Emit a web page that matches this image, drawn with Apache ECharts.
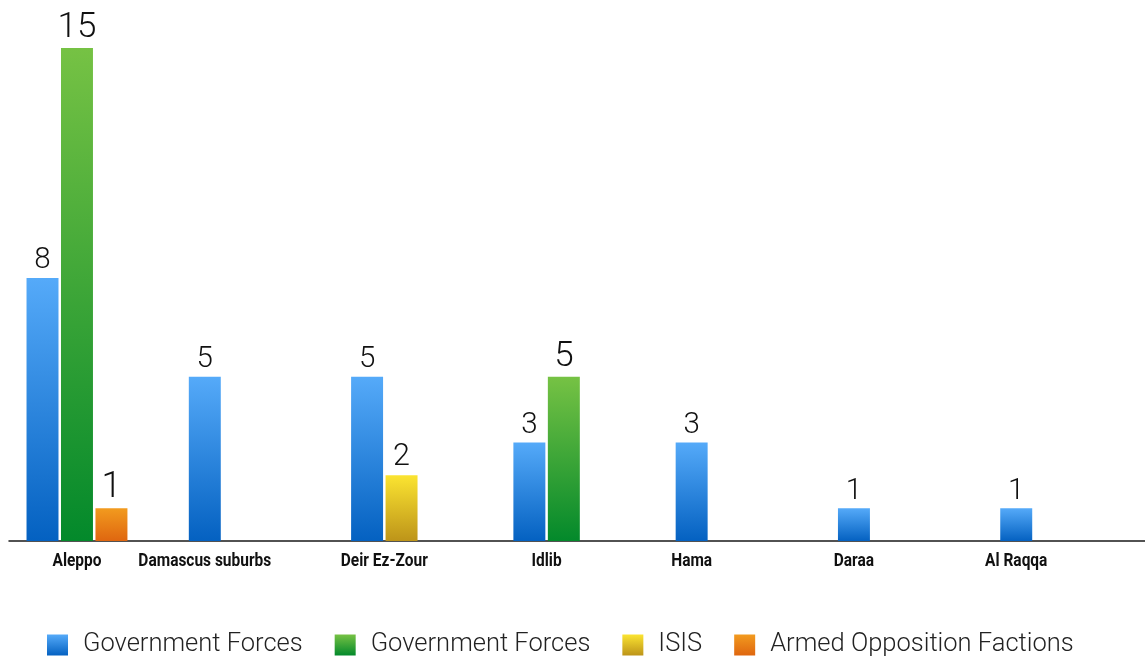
<!DOCTYPE html>
<html><head><meta charset="utf-8">
<script src="https://cdn.jsdelivr.net/npm/echarts/dist/echarts.min.js"></script>
<style>html,body{margin:0;padding:0;background:#fff}#c{width:1145px;height:658px}</style>
</head><body><div id="c"></div>
<script>
// ---- data ----
const categories = ['Aleppo', 'Damascus suburbs', 'Deir Ez-Zour', 'Idlib', 'Hama', 'Daraa', 'Al Raqqa'];
const govForcesBlue = [8, 5, 5, 3, 3, 1, 1];
const govForcesGreen = [15, null, null, 5, null, null, null];
const isis = [null, null, 2, null, null, null, null];
const armedOpposition = [1, null, null, null, null, null, null];
const seriesNames = ['Government Forces', 'Government Forces', 'ISIS', 'Armed Opposition Factions'];
const yMin = 0, yMax = 15;

// ---- styles ----
const allSeries = [govForcesBlue, govForcesGreen, isis, armedOpposition];
const grad = (a, b) => new echarts.graphic.LinearGradient(0, 0, 0, 1, [{offset: 0, color: a}, {offset: 1, color: b}]);
const gradients = [
  grad('#55aaf9', '#0461c1'),
  grad('#76c244', '#03892b'),
  grad('#fbe431', '#bd9419'),
  grad('#f29b1f', '#df660f')
];
const labelSizes = [29.5, 35, 30.5, 36];
const LABEL_FONT = 'Roboto, "Liberation Sans", sans-serif';

function barLayout(bw) {
  const barW = bw * 0.197;
  return {barW: barW, step: barW + 2.5, offset: bw * 0.108};
}

function makeBarRender(si) {
  return function (params, api) {
    const ci = api.value(0), v = api.value(1);
    const base = api.coord([ci, 0]);
    const bw = api.size([1, 0])[0];
    const L = barLayout(bw);
    let k = 0;
    for (let j = 0; j < si; j++) if (allSeries[j][ci] != null) k++;
    const x = base[0] - bw / 2 + L.offset + k * L.step;
    const top = api.coord([ci, v]);
    return {
      type: 'group',
      children: [
        {type: 'rect', shape: {x: x, y: top[1], width: L.barW, height: base[1] - top[1]}, style: {fill: gradients[si]}},
        {type: 'text', style: {
          text: String(v), x: x + L.barW / 2, y: top[1] - 2,
          align: 'center', verticalAlign: 'bottom', fill: '#111',
          fontFamily: LABEL_FONT, fontWeight: 300, fontSize: labelSizes[si]
        }}
      ]
    };
  };
}

function renderCatLabel(params, api) {
  const ci = api.value(0);
  const base = api.coord([ci, 0]);
  const bw = api.size([1, 0])[0];
  const L = barLayout(bw);
  let n = 0;
  allSeries.forEach(s => { if (s[ci] != null) n++; });
  const start = base[0] - bw / 2 + L.offset;
  const cx = start + (n * L.step - 2.5) / 2;
  return {
    type: 'text',
    x: cx, y: base[1] + 20,
    scaleX: 0.86,
    style: {
      text: categories[ci], x: 0, y: 0,
      align: 'center', verticalAlign: 'middle', fill: '#111',
      fontFamily: 'Roboto, sans-serif',
      fontWeight: 'bold', fontSize: 18
    }
  };
}

const series = allSeries.map((arr, si) => ({
  type: 'custom',
  name: seriesNames[si] + (si === 1 ? ' (2)' : ''),
  renderItem: makeBarRender(si),
  itemStyle: {color: gradients[si]},
  encode: {x: 0, y: 1},
  data: arr.map((v, i) => v == null ? null : [i, v]).filter(d => d)
}));
series.push({
  type: 'custom',
  name: 'labels',
  renderItem: renderCatLabel,
  encode: {x: 0, y: 1},
  data: categories.map((c, i) => [i, 0]),
  silent: true
});

const chart = echarts.init(document.getElementById('c'), null, {renderer: 'canvas'});
chart.setOption({
  animation: false,
  backgroundColor: '#fff',
  grid: {left: 9, right: 0, top: 48, bottom: 117, containLabel: false},
  xAxis: {
    type: 'category', data: categories, boundaryGap: true,
    axisLine: {show: true, lineStyle: {color: '#1a1a1a', width: 1.5}},
    axisTick: {show: false}, axisLabel: {show: false}, splitLine: {show: false}
  },
  yAxis: {type: 'value', min: yMin, max: yMax, show: false, splitLine: {show: false}},
  legend: {
    data: series.slice(0, 4).map(s => s.name),
    left: 47, top: 632, padding: 0, itemWidth: 21, itemHeight: 21, itemGap: 32, icon: 'rect',
    formatter: name => name.replace(/ \(2\)$/, ''),
    textStyle: {fontFamily: LABEL_FONT, fontWeight: 300, fontSize: 25.5, color: '#222', padding: [0, 0, 0, 10]}
  },
  series: series
});
</script>
</body></html>
